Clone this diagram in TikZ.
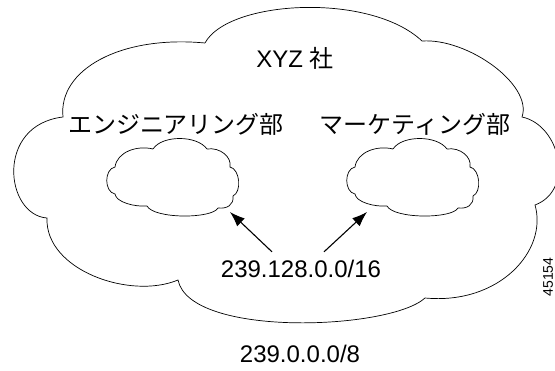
\documentclass[tikz,border=0pt]{standalone}
\usepackage{fontspec}
\setmainfont{Liberation Sans}
\newfontfamily\jp{Noto Sans CJK JP}
\usetikzlibrary{arrows.meta}
\tikzset{
  netcloud/.pic={
    \draw (-19,-28) .. controls (-10,-42) and (25,-42) .. (35,-28)
      .. controls (48,-30) and (60,-20) .. (58,-10)
      .. controls (68,-8) and (70,15) .. (61,19)
      .. controls (62,28) and (55,32) .. (46,31)
      .. controls (40,42) and (-18,42) .. (-25,29)
      .. controls (-38,30) and (-56,25) .. (-57,17)
      .. controls (-68,15) and (-68,-8) .. (-57,-10)
      .. controls (-55,-25) and (-35,-32) .. (-19,-28);
    \coordinate (-se) at (58,35);
    \coordinate (-sw) at (-45,35);
  }
}
\begin{document}
\begin{tikzpicture}[
  x=1pt, y=-1pt,
  txt/.style={font=\fontsize{24}{28}\selectfont, inner sep=0pt},
  ptr/.style={-{Latex[length=15pt,width=11pt]}, line width=1.1pt},
  line width=0.7pt
]
\useasboundingbox (0,0) rectangle (555,370);
\draw (205,43) .. controls (228,0) and (370,-8) .. (422,41)
  .. controls (468,38) and (533,85) .. (522,117)
  .. controls (560,125) and (575,190) .. (535,205)
  .. controls (548,250) and (500,305) .. (425,298)
  .. controls (390,330) and (190,338) .. (178,280)
  .. controls (130,300) and (45,270) .. (47,218)
  .. controls (5,215) and (-5,125) .. (63,117)
  .. controls (58,70) and (120,35) .. (205,43);
\node[txt] (company) at (295,58) {XYZ {\jp 社}};
\node[txt] (engdept) at (176,124) {\jp エンジニアリング部};
\node[txt] (mktdept) at (415,124) {\jp マーケティング部};
\pic (engnet) at (172,177) {netcloud};
\pic (mktnet) at (412,177) {netcloud};
\node[txt] (addr) at (301,269) {239.128.0.0/16};
\node[txt] (prefix) at (300,354) {239.0.0.0/8};
\node[font=\fontsize{14}{16}\selectfont, rotate=90, inner sep=0pt] (figid) at (548,277) {45154};
\draw[ptr] ([shift={(-29pt,8pt)}]addr.north) -- (engnet-se);
\draw[ptr] ([shift={(23pt,8pt)}]addr.north) -- (mktnet-sw);
\end{tikzpicture}
\end{document}
